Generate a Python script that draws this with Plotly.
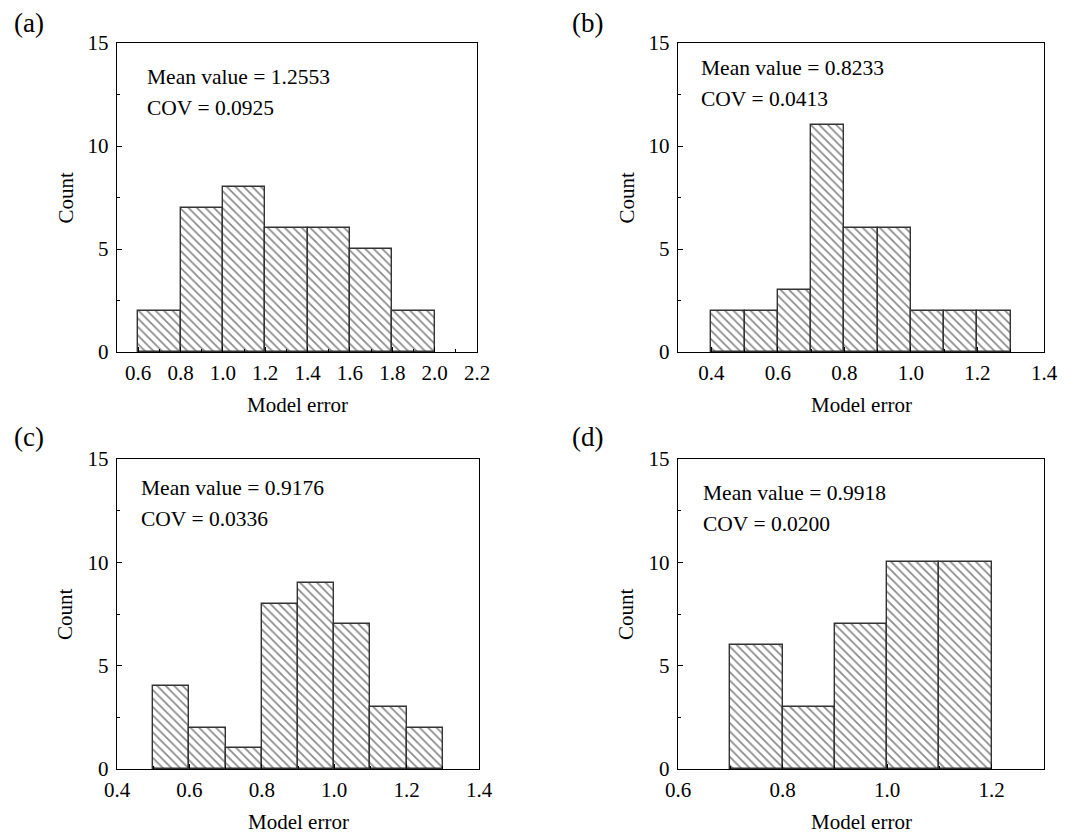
import plotly.graph_objects as go

# ---- data ----
a_left = [0.6, 0.8, 1.0, 1.2, 1.4, 1.6, 1.8]
a_count = [2, 7, 8, 6, 6, 5, 2]
a_width = 0.2

b_left = [0.4, 0.5, 0.6, 0.7, 0.8, 0.9, 1.0, 1.1, 1.2]
b_count = [2, 2, 3, 11, 6, 6, 2, 2, 2]
b_width = 0.1

c_left = [0.5, 0.6, 0.7, 0.8, 0.9, 1.0, 1.1, 1.2]
c_count = [4, 2, 1, 8, 9, 7, 3, 2]
c_width = 0.1

d_left = [0.7, 0.8, 0.9, 1.0, 1.1]
d_count = [6, 3, 7, 10, 10]
d_width = 0.1

panel_labels = ["(a)", "(b)", "(c)", "(d)"]
mean_values = ["1.2553", "0.8233", "0.9176", "0.9918"]
cov_values = ["0.0925", "0.0413", "0.0336", "0.0200"]
x_ranges = [[0.5, 2.2], [0.3, 1.4], [0.4, 1.4], [0.6, 1.3]]
x_tick0 = [0.6, 0.4, 0.4, 0.6]

# page body has an 8px margin; work in screen pixels and subtract it
OFF = 8
W, H = 1074 - OFF, 834 - OFF
FONT = "Liberation Serif"
panels = [
    (a_left, a_count, a_width),
    (b_left, b_count, b_width),
    (c_left, c_count, c_width),
    (d_left, d_count, d_width),
]
# screen-pixel boxes: left, right, top, bottom
boxes = [(117, 477, 43, 352), (678, 1044, 43, 352),
         (117, 479, 459, 769), (678, 1044, 459, 769)]
# stats text offsets (dx from left, dy from top)
stat_pos = [(28, 34), (21, 25), (22, 29), (23, 34)]
label_pos = [(12, 23), (570, 23), (12, 437), (570, 437)]


def px(v):
    return (v - OFF) / W


def py(v):
    return 1 - (v - OFF) / H


fig = go.Figure()
layout = {}
annotations = []
for i, ((lefts, counts, w), (L, R, T, B)) in enumerate(zip(panels, boxes)):
    n = i + 1
    xa = "x" if n == 1 else f"x{n}"
    ya = "y" if n == 1 else f"y{n}"
    centers = [l + w / 2 for l in lefts]
    fig.add_trace(go.Bar(
        x=centers, y=counts, width=w, xaxis=xa, yaxis=ya,
        marker=dict(color="white",
                    line=dict(color="#333333", width=1.4),
                    pattern=dict(shape="\\", size=6, solidity=0.28,
                                 fgcolor="#111111", bgcolor="white")),
        showlegend=False, hoverinfo="skip"))
    xk = "xaxis" if n == 1 else f"xaxis{n}"
    yk = "yaxis" if n == 1 else f"yaxis{n}"
    axis_common = dict(showline=True, linecolor="black", linewidth=1.4,
                       mirror=True, showgrid=False, zeroline=False,
                       automargin=False,
                       ticks="inside", ticklen=5, tickcolor="black",
                       tickfont=dict(family=FONT, size=21, color="black"))
    layout[xk] = dict(axis_common, domain=[px(L), px(R)], anchor=ya,
                      range=x_ranges[i], tick0=x_tick0[i], dtick=0.2,
                      tickformat=".1f", ticklabelstandoff=2,
                      minor=dict(ticks="inside", ticklen=3, dtick=0.1,
                                 tickcolor="black"))
    layout[yk] = dict(axis_common, domain=[py(B), py(T)], anchor=xa,
                      range=[0, 15], dtick=5, ticklabelstandoff=3,
                      minor=dict(ticks="inside", ticklen=3, dtick=2.5,
                                 tickcolor="black"))
    lx, ly = label_pos[i]
    annotations.append(dict(text=panel_labels[i], xref="paper", yref="paper",
                            x=px(lx), y=py(ly), xanchor="left", yanchor="middle",
                            showarrow=False,
                            font=dict(family=FONT, size=27, color="black")))
    dx, dy = stat_pos[i]
    annotations.append(dict(text=f"Mean value = {mean_values[i]}", xref="paper",
                            yref="paper", x=px(L + dx), y=py(T + dy),
                            xanchor="left", yanchor="middle", showarrow=False,
                            font=dict(family=FONT, size=21.5, color="black")))
    annotations.append(dict(text=f"COV = {cov_values[i]}", xref="paper",
                            yref="paper", x=px(L + dx), y=py(T + dy + 31),
                            xanchor="left", yanchor="middle", showarrow=False,
                            font=dict(family=FONT, size=21.5, color="black")))
    annotations.append(dict(text="Count", xref="paper", yref="paper",
                            x=px(L - 52), y=py((T + B) / 2),
                            textangle=-90, xanchor="center", yanchor="middle",
                            showarrow=False,
                            font=dict(family=FONT, size=21, color="black")))
    annotations.append(dict(text="Model error", xref="paper", yref="paper",
                            x=px((L + R) / 2), y=py(B + 53),
                            xanchor="center", yanchor="middle", showarrow=False,
                            font=dict(family=FONT, size=21, color="black")))

fig.update_layout(width=W, height=H, margin=dict(l=0, r=0, t=0, b=0),
                  paper_bgcolor="white", plot_bgcolor="white",
                  bargap=0, annotations=annotations, **layout)
fig.write_html("out.html")
